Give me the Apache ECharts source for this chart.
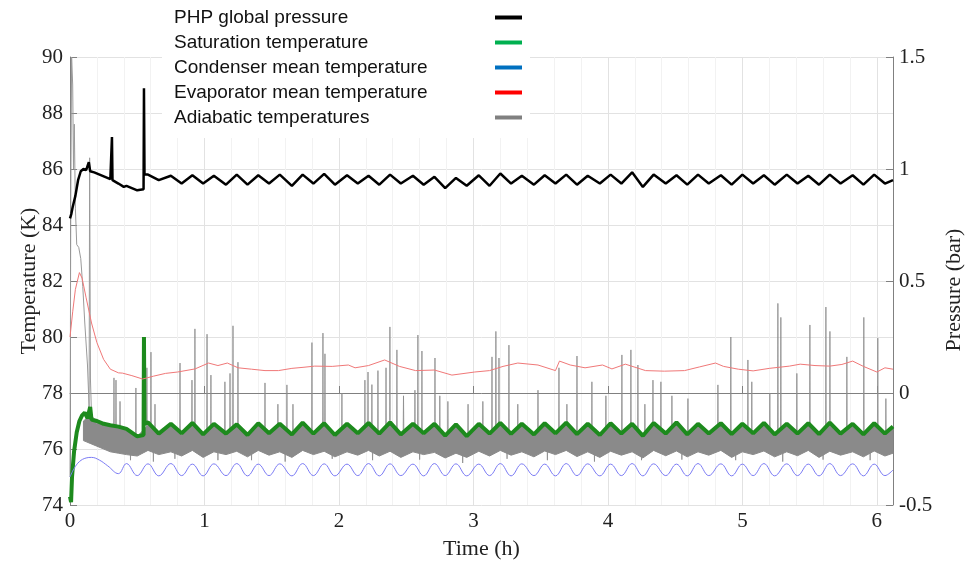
<!DOCTYPE html>
<html>
<head>
<meta charset="utf-8">
<script src="https://cdn.jsdelivr.net/npm/echarts@6/dist/echarts.min.js"></script>
<style>
html, body { margin: 0; padding: 0; background: #fff; }
#main { width: 974px; height: 565px; }
</style>
</head>
<body>
<div id="main"></div>
<script>
// time of each peak / trough of the condenser cycle (h)
var cycleT = [0.42,0.50,0.58,0.66,0.75,0.83,0.91,0.99,1.07,1.16,1.24,1.32,1.40,1.48,1.56,1.65,1.73,1.81,1.89,1.97,
  2.06,2.14,2.22,2.30,2.38,2.46,2.55,2.63,2.71,2.79,2.87,2.95,3.04,3.12,3.20,3.28,3.36,3.45,3.53,3.61,
  3.69,3.77,3.85,3.94,4.02,4.10,4.18,4.26,4.34,4.43,4.51,4.59,4.67,4.75,4.84,4.92,5.00,5.08,5.16,5.24,
  5.33,5.41,5.49,5.57,5.65,5.73,5.82,5.90,5.98,6.06,6.12];

// PHP global pressure (bar)
var pressStart = [[0,0.78],[0.01,0.80],[0.02,0.83],[0.04,0.88],[0.06,0.95],[0.08,0.99],[0.10,1.0],[0.12,0.995],
  [0.14,1.03],[0.15,0.99],[0.18,0.985],[0.22,0.975],[0.26,0.965],[0.30,0.955],[0.36,0.935],[0.40,0.92]];
var pressCycle = [0.925,0.905,0.975,0.95,0.97,0.935,0.972,0.935,0.97,0.93,0.975,0.93,0.972,0.935,0.975,0.925,0.975,0.935,0.978,0.93,
  0.972,0.935,0.97,0.93,0.975,0.935,0.97,0.93,0.965,0.915,0.96,0.925,0.972,0.925,0.98,0.935,0.97,0.93,0.972,0.935,
  0.975,0.93,0.97,0.935,0.975,0.935,0.985,0.92,0.975,0.935,0.972,0.93,0.975,0.935,0.972,0.93,0.975,0.935,0.972,0.93,
  0.975,0.935,0.97,0.93,0.975,0.935,0.972,0.93,0.975,0.935,0.95];
var pressSpikes = [[0.309,0.955],[0.312,1.143],[0.316,0.95],[0.547,0.91],[0.55,1.36],[0.554,0.975]];

// Saturation temperature (K)
var satStart = [[0,74.3],[0.008,74.1],[0.015,75.0],[0.03,75.9],[0.05,76.6],[0.07,77.0],[0.09,77.2],[0.11,77.3],
  [0.13,77.1],[0.15,77.5],[0.16,77.05],[0.20,77.0],[0.25,76.9],[0.30,76.85],[0.36,76.8]];
var satCycle = [76.72,76.45,76.95,76.55,76.9,76.56,76.93,76.52,76.9,76.55,76.88,76.5,76.92,76.56,76.9,76.52,76.94,76.55,76.92,76.5,
  76.9,76.56,76.93,76.55,76.95,76.52,76.9,76.56,76.9,76.48,76.88,76.46,76.9,76.55,76.93,76.54,76.9,76.52,76.92,76.56,
  76.94,76.53,76.9,76.5,76.92,76.55,76.9,76.47,76.93,76.55,76.95,76.52,76.9,76.55,76.92,76.53,76.9,76.56,76.93,76.52,
  76.9,76.55,76.92,76.53,76.94,76.55,76.9,76.52,76.92,76.55,76.8];
var satSpikes = [[0.547,76.5],[0.55,80.0],[0.554,76.9]];

// Condenser mean temperature (K)
var condStart = [[0,75.0],[0.03,75.3],[0.07,75.55],[0.12,75.68],[0.16,75.7],[0.22,75.6],[0.28,75.4],[0.36,75.12]];
var condCycle = [75.48,75.05,75.47,75.04,75.48,75.05,75.46,75.04,75.47,75.05,75.48,75.04,75.46,75.05,75.47,75.04,75.48,75.05,75.47,75.04,
  75.46,75.05,75.48,75.04,75.47,75.05,75.46,75.04,75.48,75.05,75.47,75.04,75.46,75.05,75.48,75.04,75.47,75.05,75.46,75.04,
  75.48,75.05,75.47,75.04,75.46,75.05,75.48,75.04,75.47,75.05,75.46,75.04,75.48,75.05,75.47,75.04,75.46,75.05,75.48,75.04,
  75.47,75.05,75.46,75.04,75.48,75.05,75.47,75.04,75.46,75.05,75.25];

// Evaporator mean temperature (K)
var evapT = [0,0.02,0.04,0.07,0.09,0.12,0.16,0.20,0.25,0.30,0.36,0.39,0.46,0.54,0.62,0.71,0.80,0.93,1.03,1.10,1.17,1.25,1.35,1.45,1.55,
  1.65,1.74,1.82,1.95,2.07,2.12,2.22,2.34,2.45,2.57,2.71,2.84,3.01,3.12,3.22,3.33,3.48,3.61,3.64,3.72,3.83,3.96,4.03,4.13,4.28,
  4.42,4.57,4.68,4.80,4.86,4.97,5.08,5.20,5.35,5.43,5.54,5.65,5.74,5.82,5.90,6.00,6.06,6.12];
var evapV = [80.0,80.9,81.7,82.3,82.1,81.4,80.5,79.8,79.2,78.85,78.72,78.71,78.62,78.5,78.6,78.7,78.75,78.86,79.07,78.98,79.07,78.9,78.85,78.8,78.8,
  78.88,78.92,78.96,78.95,79.0,78.9,78.98,79.18,78.95,78.8,78.82,78.64,78.75,78.8,78.95,79.07,79.0,78.8,79.14,79.0,78.9,79.0,78.86,79.03,78.8,
  78.78,78.8,78.93,79.07,78.95,78.85,78.79,78.88,78.96,79.03,78.98,78.96,79.02,79.14,78.95,78.75,78.9,78.85];

// Adiabatic temperatures (K): first minutes, band of sensors, spikes
var adiaStart = [[0,75.0],[0.006,85.0],[0.012,90.0],[0.02,89.0],[0.026,86.0],[0.032,87.6],[0.04,84.6],[0.05,83.3],[0.065,83.2],
  [0.08,82.8],[0.095,81.8],[0.11,80.5],[0.13,79.0],[0.142,77.5],[0.146,86.4],[0.152,78.5],[0.16,77.2],[0.20,76.9]];
var bandT = [0.10,0.15,0.20,0.25,0.30,0.36].concat(cycleT);
var adiaHigh = [77.0,77.2,77.0,76.9,76.8,76.75,
  76.7,76.45,76.85,76.5,76.85,76.5,76.88,76.48,76.85,76.5,76.83,76.45,76.87,76.5,76.85,76.47,76.88,76.5,76.87,76.45,
  76.85,76.5,76.88,76.5,76.9,76.47,76.85,76.5,76.85,76.43,76.83,76.42,76.85,76.5,76.88,76.48,76.85,76.47,76.87,76.5,
  76.88,76.48,76.85,76.45,76.87,76.5,76.85,76.43,76.88,76.5,76.9,76.47,76.85,76.5,76.87,76.48,76.85,76.5,76.88,76.47,
  76.85,76.5,76.87,76.48,76.88,76.5,76.85,76.47,76.87,76.5,76.75];
var adiaLow = [76.3,76.2,76.1,76.0,75.9,75.85,
  75.8,75.75,75.95,75.8,75.9,75.75,75.95,75.7,75.9,75.8,75.92,75.72,75.95,75.78,75.9,75.7,75.95,75.8,75.92,75.72,
  75.9,75.78,75.95,75.75,75.92,75.7,75.9,75.8,75.88,75.68,75.85,75.7,75.92,75.75,75.95,75.78,75.9,75.72,75.93,75.8,
  75.95,75.73,75.9,75.7,75.92,75.78,75.9,75.68,75.95,75.76,75.93,75.72,75.9,75.78,75.95,75.7,75.9,75.8,75.93,75.72,
  75.9,75.76,75.95,75.7,75.92,75.78,75.9,75.72,75.93,75.75,75.85];
var adiaPeaks = [[0.327,78.54],[0.342,78.46],[0.372,77.7],[0.49,78.18],[0.572,78.9],[0.602,79.46],[0.632,77.6],[0.818,79.07],
  [0.907,78.46],[0.929,80.29],[1.019,80.1],[1.048,78.64],[1.152,78.4],[1.19,78.7],[1.212,80.4],[1.249,79.1],[1.45,78.36],
  [1.546,77.6],[1.613,78.29],[1.658,77.6],[1.799,79.8],[1.881,80.14],[1.896,79.4],[2.022,78.0],[2.193,78.46],[2.216,78.75],
  [2.245,78.3],[2.29,78.8],[2.35,78.9],[2.379,80.36],[2.431,79.54],[2.48,77.9],[2.565,78.1],[2.587,80.07],[2.617,79.5],
  [2.714,79.25],[2.75,77.9],[2.81,77.7],[2.96,77.6],[3.07,77.7],[3.138,79.29],[3.167,80.2],[3.19,79.25],[3.264,79.71],
  [3.33,77.6],[3.48,78.1],[3.636,78.9],[3.695,77.6],[3.77,79.32],[3.881,78.4],[3.985,77.9],[4.104,79.36],[4.171,79.54],
  [4.223,79.0],[4.275,77.6],[4.335,78.46],[4.394,78.4],[4.476,77.9],[4.595,77.8],[4.818,78.29],[4.914,80.0],[5.041,79.18],
  [5.07,78.4],[5.204,78.0],[5.264,81.2],[5.286,80.7],[5.405,78.7],[5.502,80.43],[5.621,81.07],[5.651,80.2],[5.777,79.29],
  [5.903,80.7],[6.007,79.96],[6.067,77.8],
  [0.45,75.6],[0.62,75.55],[0.78,75.65],[1.10,75.6],[1.35,75.6],[1.60,75.55],[1.95,75.65],[2.25,75.6],[2.60,75.62],
  [2.92,75.5],[3.25,75.65],[3.55,75.6],[3.90,75.55],[4.25,75.6],[4.55,75.62],[4.95,75.6],[5.30,75.55],[5.60,75.62],[5.95,75.6]];

var tempTicks = [74, 76, 78, 80, 82, 84, 86, 88, 90];
var pressTicks = [-0.5, 0, 0.5, 1, 1.5];

function pairs(ts, vs) {
	return ts.map(function(t, i) { return [t, vs[i]]; });
}
function merged() {
	var all = [];
	for (var i = 0; i < arguments.length; i++) all = all.concat(arguments[i]);
	return all.sort(function(a, b) { return a[0] - b[0]; });
}

// spikes drawn as thin peaks leaving the band
var spikeData = [];
for (var i = 0; i < adiaPeaks.length; i++) {
	var s = adiaPeaks[i];
	spikeData.push([s[0] - 0.003, 76.3], [s[0], s[1]], [s[0] + 0.003, 76.3], [s[0] + 0.004, '-']);
}

// gray band between the lowest and highest adiabatic sensor
function renderBand(params, api) {
	var pts = [];
	for (var i = 0; i < bandT.length; i++) pts.push(api.coord([bandT[i], adiaHigh[i]]));
	for (var j = bandT.length - 1; j >= 0; j--) pts.push(api.coord([bandT[j], adiaLow[j]]));
	return {
		type: 'polygon',
		shape: { points: pts },
		style: { fill: '#8a8a8a', stroke: '#8a8a8a', lineWidth: 1 }
	};
}

var serif = 'Liberation Serif';
var axisGray = '#808080';

var chart = echarts.init(document.getElementById('main'));
chart.setOption({
	animation: false,
	backgroundColor: '#fff',
	grid: { left: 70, right: 81, top: 57, bottom: 60 },
	legend: {
		left: 162, top: 0,
		orient: 'vertical',
		align: 'right',
		backgroundColor: '#fff',
		padding: [5, 8, 8, 12],
		itemGap: 0,
		itemWidth: 27, itemHeight: 4,
		icon: 'rect',
		selectedMode: false,
		formatter: function(name) { return '{t|' + name + '}'; },
		textStyle: {
			fontFamily: 'Liberation Sans', fontSize: 19, color: '#111', lineHeight: 25,
			rich: { t: { width: 316, align: 'left', fontFamily: 'Liberation Sans', fontSize: 19, color: '#111', lineHeight: 25 } }
		},
		data: [
			{ name: 'PHP global pressure', itemStyle: { color: '#000' } },
			{ name: 'Saturation temperature', itemStyle: { color: '#00b050' } },
			{ name: 'Condenser mean temperature', itemStyle: { color: '#0070c0' } },
			{ name: 'Evaporator mean temperature', itemStyle: { color: '#ff0000' } },
			{ name: 'Adiabatic temperatures', itemStyle: { color: '#808080' } }
		]
	},
	xAxis: {
		type: 'value', min: 0, max: 6.12, interval: 1,
		name: 'Time (h)', nameLocation: 'middle', nameGap: 33,
		nameTextStyle: { fontFamily: serif, fontSize: 22, color: '#222' },
		axisLine: { lineStyle: { color: axisGray } },
		axisTick: { inside: true, length: 7, lineStyle: { color: axisGray } },
		axisLabel: { fontFamily: serif, fontSize: 21, color: '#222', margin: 6,
			formatter: function(v) { return Number.isInteger(v) ? String(v) : ''; } },
		splitLine: { show: true, lineStyle: { color: '#e2e2e2' } },
		minorSplitLine: { show: true, lineStyle: { color: '#f2f2f2' } },
		minorTick: { show: false, splitNumber: 5 }
	},
	yAxis: [{
		type: 'value', min: tempTicks[0], max: tempTicks[tempTicks.length - 1], interval: 2,
		name: 'Temperature (K)', nameLocation: 'middle', nameGap: 30, nameRotate: 90,
		nameMoveOverlap: false,
		nameTextStyle: { fontFamily: serif, fontSize: 22, color: '#222' },
		axisLine: { show: true, lineStyle: { color: axisGray } },
		axisTick: { show: true, inside: true, length: 7, lineStyle: { color: axisGray } },
		axisLabel: { fontFamily: serif, fontSize: 21, color: '#222', margin: 7 },
		splitLine: { show: true, lineStyle: { color: '#e2e2e2' } }
	}, {
		type: 'value', min: pressTicks[0], max: pressTicks[pressTicks.length - 1], interval: 0.5,
		position: 'right',
		name: 'Pressure (bar)', nameLocation: 'middle', nameGap: 50, nameRotate: 90,
		nameTextStyle: { fontFamily: serif, fontSize: 22, color: '#222', padding: [0, 18, 0, 0] },
		axisLine: { show: true, lineStyle: { color: axisGray } },
		axisTick: { show: true, inside: true, length: 7, lineStyle: { color: axisGray } },
		axisLabel: { fontFamily: serif, fontSize: 21, color: '#222', margin: 6 },
		splitLine: { show: false }
	}],
	series: [
		{ name: 'Adiabatic temperatures', type: 'custom', renderItem: renderBand, clip: true, silent: true,
			itemStyle: { color: '#808080' }, data: [[bandT[0], adiaLow[0]]] },
		{ name: 'Adiabatic temperatures', type: 'line', symbol: 'none',
			lineStyle: { width: 1, color: '#9a9a9a' }, itemStyle: { color: '#808080' }, data: adiaStart },
		{ name: 'Adiabatic temperatures', type: 'line', symbol: 'none', connectNulls: false,
			lineStyle: { width: 0.8, color: '#8a8a8a' }, itemStyle: { color: '#808080' }, data: spikeData },
		{ name: 'Saturation temperature', type: 'line', symbol: 'none',
			lineStyle: { width: 4, color: '#1d8a1d' }, itemStyle: { color: '#1d8a1d' },
			data: merged(satStart, pairs(cycleT, satCycle), satSpikes) },
		{ name: 'Evaporator mean temperature', type: 'line', symbol: 'none',
			lineStyle: { width: 1, color: '#f07878' }, itemStyle: { color: '#f07878' },
			data: pairs(evapT, evapV) },
		{ name: 'Condenser mean temperature', type: 'line', symbol: 'none', smooth: 0.4,
			lineStyle: { width: 1, color: '#7b7bf5' }, itemStyle: { color: '#7b7bf5' },
			data: merged(condStart, pairs(cycleT, condCycle)) },
		{ name: 'PHP global pressure', type: 'line', yAxisIndex: 1, symbol: 'none',
			lineStyle: { width: 2.5, color: '#000' }, itemStyle: { color: '#000' },
			data: merged(pressStart, pairs(cycleT, pressCycle), pressSpikes) }
	]
});
</script>
</body>
</html>
